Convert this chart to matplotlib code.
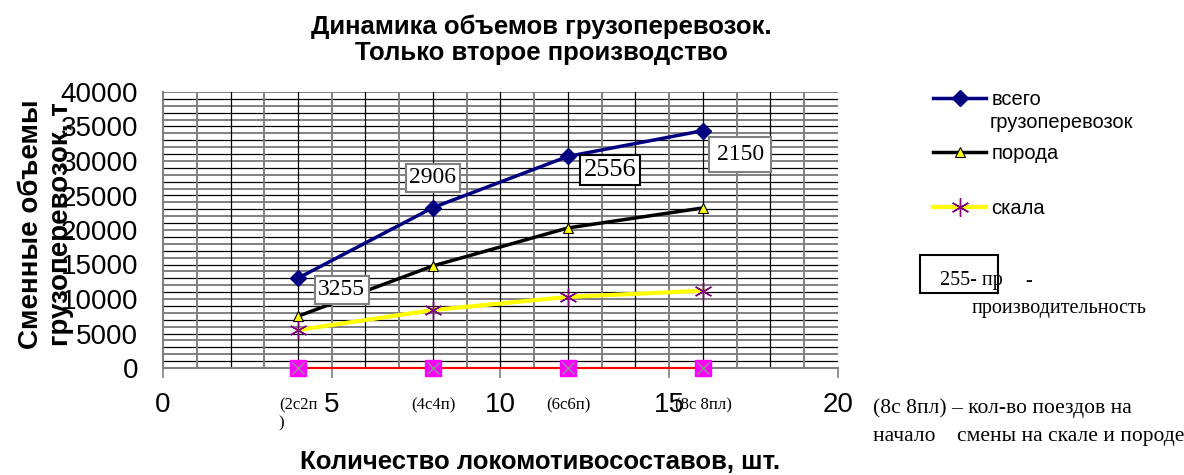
import matplotlib.pyplot as plt
from matplotlib.patches import Rectangle

# data
trains = [4, 8, 12, 16]
train_labels = ['(2с2п\n)', '(4с4п)', '(6с6п)', '(8с 8пл)']
total = [13020, 23248, 30672, 34400]
rock = [7500, 14800, 20300, 23200]
skala = [5500, 8400, 10300, 11200]
zero_series = [0, 0, 0, 0]
productivity = [3255, 2906, 2556, 2150]
prod_edge = ['#808080', '#808080', 'black', '#808080']

SANS = 'Liberation Sans'
SERIF = 'Liberation Serif'
plt.rcParams['font.family'] = SANS

fig = plt.figure(figsize=(11.84, 4.75), dpi=100)
ax = fig.add_axes([163 / 1184, 1 - 368 / 475, 675 / 1184, 276 / 475])
ax.set_xlim(0, 20)
ax.set_ylim(0, 40000)

# grid, alternating black / gray like the original
for i, yv in enumerate(range(1000, 40001, 1000)):
    if i % 2 == 0:
        ax.axhline(yv, color='black', lw=0.9, zorder=0)
    else:
        ax.axhline(yv, color='#808080', lw=1.4, zorder=0)
for i, xv in enumerate(range(1, 20)):
    if i % 2 == 0:
        ax.axvline(xv, color='#808080', lw=1.4, zorder=0)
    else:
        ax.axvline(xv, color='black', lw=0.9, zorder=0)

for s in ['top', 'right']:
    ax.spines[s].set_visible(False)
for s in ['left', 'bottom']:
    ax.spines[s].set_color('#808080')
    ax.spines[s].set_linewidth(1.5)

# series
ax.plot(trains, zero_series, color='red', lw=1.5, marker='s', ms=12,
        mfc='magenta', mec='magenta', zorder=3, clip_on=False)
ax.plot(trains, zero_series, ls='none', marker='x', ms=9, color='#909090',
        mew=1.0, zorder=4, clip_on=False)
l1, = ax.plot(trains, total, color='#000080', lw=2.5, marker='D', ms=8,
              mfc='#000080', mec='#000080', label='всего', zorder=5)
l2, = ax.plot(trains, rock, color='black', lw=2.5, marker='^', ms=7,
              mfc='#ffff00', mec='black', mew=0.8, label='порода', zorder=5)
l3, = ax.plot(trains, skala, color='#ffff00', lw=3, marker=(6, 2, 0), ms=13,
              mec='#800080', mew=1.0, label='скала', zorder=5)

# productivity labels
offsets = [(1.3, -1700), (0.0, 4300), (1.25, -2000), (1.1, -3500)]
sizes = [17, 17, 19, 17]
pads = [0.15, 0.15, 0.15, 0.3]
for x, y, p, (dx, dy), ec, fs, pd in zip(trains, total, productivity, offsets,
                                          prod_edge, sizes, pads):
    ax.text(x + dx, y + dy, str(p), family=SERIF, fontsize=fs, ha='center',
            va='center', zorder=6,
            bbox=dict(boxstyle=f'square,pad={pd}', fc='white', ec=ec, lw=1.5))

ax.set_xticks([0, 5, 10, 15, 20])
ax.set_yticks(range(0, 40001, 5000))
ax.tick_params(axis='x', labelsize=20, length=7, width=1.2, color='#808080', pad=10)
ax.tick_params(axis='y', labelsize=20, length=0, pad=18)

for x, lab in zip(trains, train_labels):
    ax.annotate(lab, (x, 0), xytext=(0, -21), textcoords='offset points',
                ha='center', va='top', family=SERIF, fontsize=12,
                multialignment='left', annotation_clip=False)

fig.text(541 / 1184, 1 - 40 / 475,
         'Динамика объемов грузоперевозок.\nТолько второе производство',
         ha='center', va='center', fontsize=18.5, fontweight='bold',
         linespacing=1.1)
fig.text(540 / 1184, 1 - 462 / 475, 'Количество локомотивосоставов, шт.',
         ha='center', va='center', fontsize=18.5, fontweight='bold')
fig.text(46 / 1184, 1 - 224 / 475, 'Сменные объемы\nгрузоперевозок, т',
         ha='center', va='center', rotation=90, fontsize=20,
         fontweight='bold', linespacing=1.2)

ax.legend(handles=[l1, l2, l3], loc='upper left',
          bbox_to_anchor=(915 / 1184, 1 - 72 / 475),
          bbox_transform=fig.transFigure, frameon=False, fontsize=14.5,
          handlelength=2.65, handletextpad=0.25, labelspacing=1.75)
fig.text(990 / 1184, 1 - 123 / 475, 'грузоперевозок', fontsize=14.5,
         ha='left', va='center')

# productivity note
fig.add_artist(Rectangle((920 / 1184, 1 - 293 / 475), 78 / 1184, 38 / 475,
                         transform=fig.transFigure, fill=False, ec='black',
                         lw=1.5))
fig.text(940 / 1184, 1 - 281 / 475, '255- пр', family=SERIF,
         fontsize=14.5, ha='left', va='center')
fig.text(1025 / 1184, 1 - 281 / 475, '-', family=SERIF,
         fontsize=14.5, ha='left', va='center')
fig.text(972 / 1184, 1 - 308 / 475, 'производительность', family=SERIF,
         fontsize=14.5, ha='left', va='center')

fig.text(873 / 1184, 1 - 408 / 475, '(8с 8пл) – кол-во поездов на',
         family=SERIF, fontsize=15.5, ha='left', va='center')
fig.text(873 / 1184, 1 - 436 / 475, 'начало    смены на скале и породе',
         family=SERIF, fontsize=15.5, ha='left', va='center')

fig.savefig('out.png', dpi=100)
